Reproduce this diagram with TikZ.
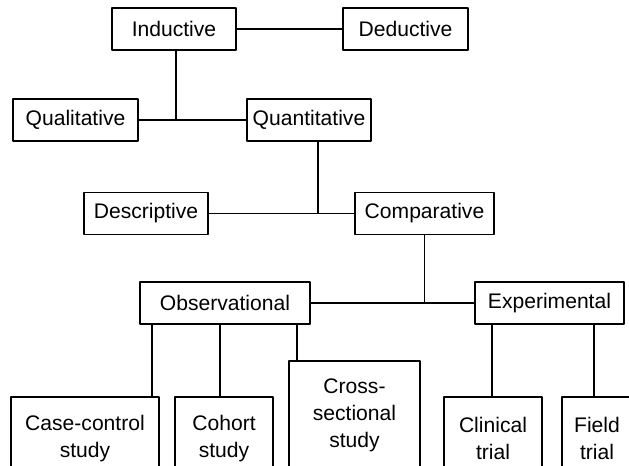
\documentclass[tikz,border=0pt]{standalone}
\usepackage{fontspec}
\newfontfamily\boxfont{Liberation Sans}
\usetikzlibrary{calc}
\begin{document}
\begin{tikzpicture}[x=0.02cm, y=-0.02cm, line join = round, line width=0.8pt]
	\tikzset{box/.style={draw, rectangle, inner sep=0pt, minimum height=0.84cm, align=center, font={\boxfont\fontsize{12}{15.3}\selectfont}},
		leaf/.style={box, minimum height=1.66cm}}
	\clip (0,0) rectangle (629,466);
	\node[box, minimum width=2.48cm] (ind) at (174,29) {Inductive};
	\node[box, minimum width=2.50cm] (ded) at (405.5,29) {Deductive};
	\node[box, minimum width=2.50cm] (qual) at (75.5,120) {Qualitative};
	\node[box, minimum width=2.48cm] (quant) at (309,120) {Quantitative};
	\node[box, minimum width=2.48cm] (desc) at (146,213.5) {Descriptive};
	\node[box, minimum width=2.78cm] (comp) at (424.5,213.5) {Comparative};
	\node[box, minimum width=3.40cm] (obs) at (225,303) {Observational};
	\node[box, minimum width=2.98cm] (exp) at (549.5,303) {Experimental};
	\node[leaf, minimum width=2.96cm] (cc) at (85,438.5) {Case-control\\study};
	\node[leaf, minimum width=1.96cm] (coh) at (224,438.5) {Cohort\\study};
	\node[leaf, minimum width=2.62cm, minimum height=2.16cm] (cs) at (354.5,415) {Cross-\\sectional\\study};
	\node[leaf, minimum width=1.96cm] (clin) at (493,438.5) {Clinical\\trial};
	\node[leaf, minimum width=1.40cm] (field) at (597,438.5) {Field\\trial};
	\draw (ind) -- (ded);
	\draw (qual) -- (quant);
	\draw ($(ind.south)+(2,0)$) coordinate (i1) -- (i1 |- qual);
	\draw (desc) -- (comp);
	\draw ($(quant.south)+(9,0)$) coordinate (q1) -- (q1 |- comp);
	\draw (obs) -- (exp);
	\draw (comp.south) -- (comp.south |- exp);
	\draw ($(obs.south)+(-73,0)$) coordinate (o1) -- (o1 |- cc.north);
	\draw ($(obs.south)+(-5,0)$) coordinate (o2) -- (o2 |- coh.north);
	\draw ($(obs.south)+(72,0)$) coordinate (o3) -- (o3 |- cs.north);
	\draw ($(exp.south)+(-57.5,0)$) coordinate (e1) -- (e1 |- clin.north);
	\draw ($(exp.south)+(44.5,0)$) coordinate (e2) -- (e2 |- field.north);
\end{tikzpicture}
\end{document}
